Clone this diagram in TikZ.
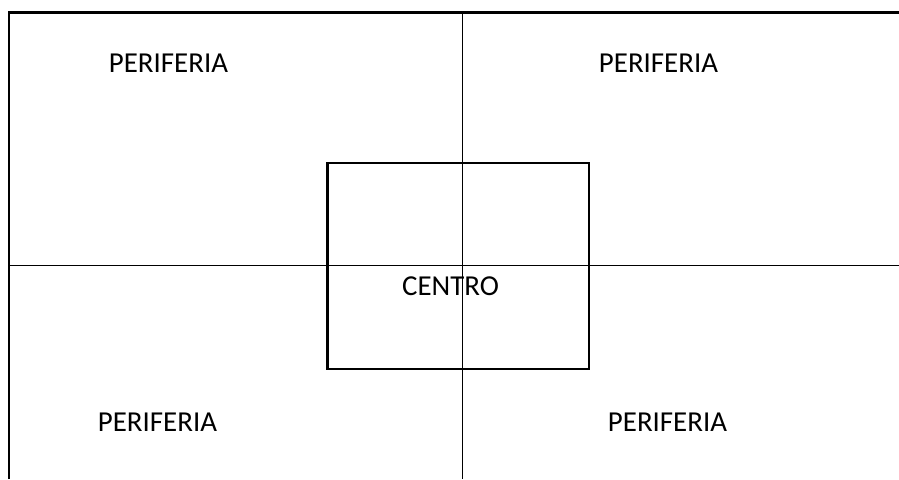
\documentclass[tikz,border=0pt]{standalone}
\usepackage{fontspec}
\setmainfont{Carlito}
\begin{document}
\begin{tikzpicture}[x=1pt,y=1pt,
  lbl/.style={inner sep=0pt,font=\fontsize{28.9}{32}\selectfont},
  thickline/.style={line width=2.5pt},
  thinline/.style={line width=1pt}]
\useasboundingbox (0,0) rectangle (899,479);
% frame
\coordinate (tl) at (9,466.5);
\coordinate (tr) at (899,466.5);
\coordinate (bl) at (9,0);
\draw[thickline] (bl) -- (tl) -- (tr);
% cross lines
\coordinate (vt) at (462,466.5);
\coordinate (vb) at (462,0);
\coordinate (hl) at (9,213);
\coordinate (hr) at (899,213);
\draw[thinline] (vt) -- (vb);
\draw[thinline] (hl) -- (hr);
% centre box
\draw[thickline] (327.5,110) rectangle (589,316);
\node[lbl] (centro) at (450.5,193) {CENTRO};
% labels
\node[lbl] (p1) at (168.5,416) {PERIFERIA};
\node[lbl] (p2) at (658.5,416) {PERIFERIA};
\node[lbl] (p3) at (157.5,57) {PERIFERIA};
\node[lbl] (p4) at (667.5,57) {PERIFERIA};
\end{tikzpicture}
\end{document}
